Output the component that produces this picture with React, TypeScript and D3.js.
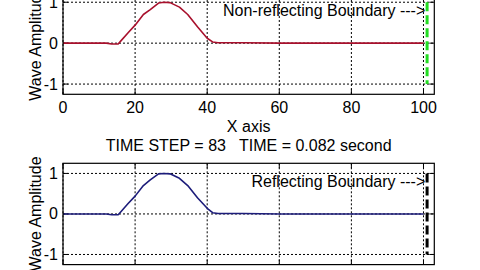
import React from "react";
import * as d3 from "d3";

const waveX = [0, 12, 13.5, 15.3, 16, 18, 20, 22.3, 24.2, 26.5, 28, 29.7, 32.3, 34.6, 37.3, 40, 41.5, 43, 50, 60, 80, 100];
const waveTop = [0, 0, -0.02, -0.02, 0.05, 0.25, 0.44, 0.7, 0.82, 0.98, 1.0, 0.99, 0.88, 0.7, 0.4, 0.12, 0.03, 0.01, 0.01, 0, 0, 0];
const waveBottom = [0, 0, -0.02, -0.02, 0.05, 0.25, 0.44, 0.7, 0.84, 0.99, 1.0, 0.99, 0.88, 0.7, 0.4, 0.14, 0.03, 0.01, 0.01, 0, 0, 0];
const xTicks = [0, 20, 40, 60, 80, 100];
const yTicks = [-1, 0, 1];
const xDomain = [0, 103];
const yDomain = [-1.25, 1.25];
const boundaryX = 101;
const boundaryY = [-1, 1];
const titleText = "TIME STEP = 83   TIME = 0.082 second";
const xLabel = "X axis";
const yLabel = "Wave Amplitude";
const topNote = "Non-reflecting Boundary --->";
const bottomNote = "Reflecting Boundary --->";
const noteY = 0.8;

const FONT = "'Liberation Sans', Arial, sans-serif";

type PanelProps = {
  top: number;
  bottom: number;
  values: number[];
  lineColor: string;
  boundaryColor: string;
  note: string;
  showXTickLabels: boolean;
};

const LEFT = 63;
const RIGHT = 434.3;

function Panel({ top, bottom, values, lineColor, boundaryColor, note, showXTickLabels }: PanelProps) {
  const x = d3.scaleLinear().domain(xDomain).range([LEFT, RIGHT]);
  const y = d3.scaleLinear().domain(yDomain).range([bottom, top]);
  const line = d3
    .line<number>()
    .x((_, i) => x(waveX[i]))
    .y((d) => y(d));
  const pathD = line(values) || "";
  const tickLen = 5;
  return (
    <g>
      <rect x={LEFT} y={top} width={RIGHT - LEFT} height={bottom - top} fill="#fff" />
      {xTicks.map((t) => (
        <line key={"gx" + t} x1={x(t)} x2={x(t)} y1={top} y2={bottom} stroke="#000" strokeWidth={1} strokeDasharray="2,2" />
      ))}
      {yTicks.map((t) => (
        <line key={"gy" + t} x1={LEFT} x2={RIGHT} y1={y(t)} y2={y(t)} stroke="#000" strokeWidth={1} strokeDasharray="2,2" />
      ))}
      {xTicks.map((t) => (
        <g key={"tx" + t}>
          <line x1={x(t)} x2={x(t)} y1={bottom} y2={bottom - tickLen} stroke="#000" />
          <line x1={x(t)} x2={x(t)} y1={top} y2={top + tickLen} stroke="#000" />
        </g>
      ))}
      {yTicks.map((t) => (
        <g key={"ty" + t}>
          <line x1={LEFT} x2={LEFT + tickLen} y1={y(t)} y2={y(t)} stroke="#000" />
          <line x1={RIGHT} x2={RIGHT - tickLen} y1={y(t)} y2={y(t)} stroke="#000" />
        </g>
      ))}
      <path d={pathD} fill="none" stroke={lineColor} strokeWidth={1.6} strokeLinejoin="round" />
      <line
        x1={x(boundaryX)}
        x2={x(boundaryX)}
        y1={y(boundaryY[1])}
        y2={y(boundaryY[0])}
        stroke={boundaryColor}
        strokeWidth={3}
        strokeDasharray="9,4"
      />
      <text
        x={x(100.5)}
        y={y(noteY)}
        textAnchor="end"
        dominantBaseline="central"
        fontFamily={FONT}
        fontSize={16}
        fill="#000"
      >
        {note}
      </text>
      <rect x={LEFT} y={top} width={RIGHT - LEFT} height={bottom - top} fill="none" stroke="#000" strokeWidth={1.2} />
      {yTicks.map((t) => (
        <text key={"ly" + t} x={58} y={y(t)} textAnchor="end" dominantBaseline="central" fontFamily={FONT} fontSize={16}>
          {t}
        </text>
      ))}
      {showXTickLabels &&
        xTicks.map((t) => (
          <text key={"lx" + t} x={x(t)} y={113} textAnchor="middle" fontFamily={FONT} fontSize={16}>
            {t}
          </text>
        ))}
      <text
        transform={`translate(41,${(top + bottom) / 2}) rotate(-90)`}
        textAnchor="middle"
        fontFamily={FONT}
        fontSize={16}
      >
        {yLabel}
      </text>
    </g>
  );
}

export default function App() {
  return (
    <svg
      width={480}
      height={270}
      style={{ position: "fixed", left: 0, top: 0, background: "#fff" }}
      xmlns="http://www.w3.org/2000/svg"
    >
      <rect x={0} y={0} width={480} height={270} fill="#fff" />
      <Panel
        top={-8}
        bottom={94.3}
        values={waveTop}
        lineColor="#a8102c"
        boundaryColor="#22dd22"
        note={topNote}
        showXTickLabels={true}
      />
      <text x={(LEFT + RIGHT) / 2} y={131.5} textAnchor="middle" fontFamily={FONT} fontSize={16}>
        {xLabel}
      </text>
      <text
        x={(LEFT + RIGHT) / 2}
        y={150.8}
        textAnchor="middle"
        fontFamily={FONT}
        fontSize={16}
        style={{ whiteSpace: "pre" }}
        xmlSpace="preserve"
      >
        {titleText}
      </text>
      <Panel
        top={163.3}
        bottom={264.6}
        values={waveBottom}
        lineColor="#1c1c7a"
        boundaryColor="#000"
        note={bottomNote}
        showXTickLabels={false}
      />
    </svg>
  );
}
